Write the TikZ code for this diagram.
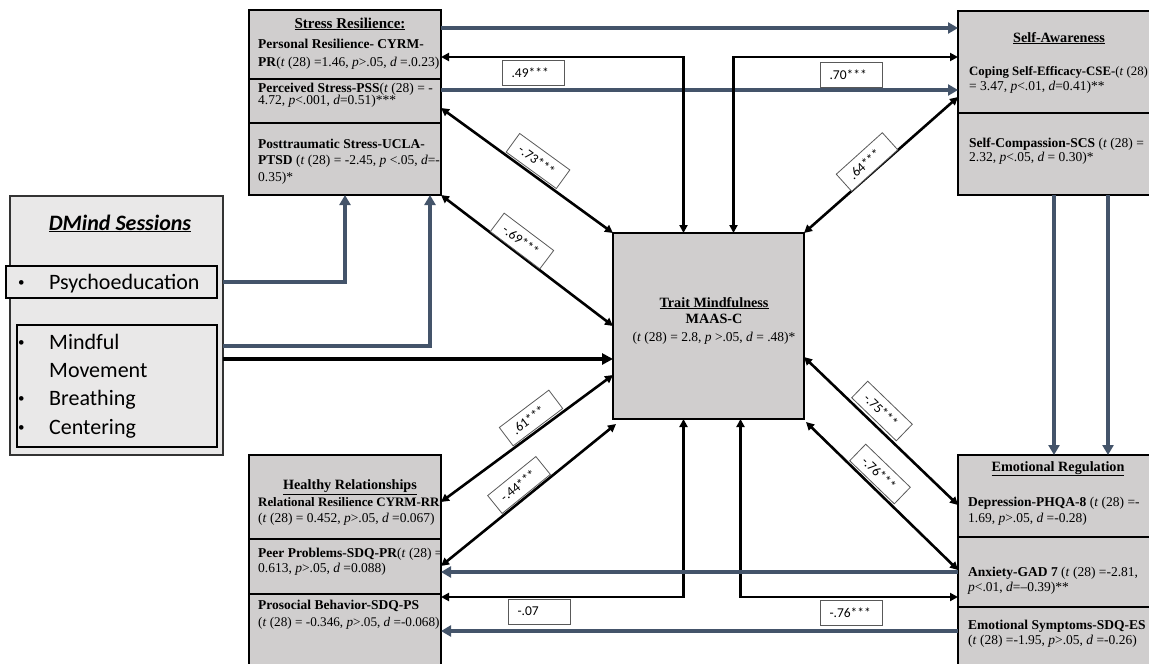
\documentclass[tikz,border=0pt]{standalone}
\usepackage{fontspec}
\setmainfont{Liberation Serif}
\newfontfamily\calib{Carlito}
\usetikzlibrary{arrows.meta}

\definecolor{slate}{HTML}{44546A}
\definecolor{boxgray}{HTML}{D0CECE}
\definecolor{panelgray}{HTML}{E9E8E8}
\definecolor{tagline}{HTML}{595959}

\newcommand\bodysize{\fontsize{13.5}{16}\selectfont}
\newcommand\headsize{\fontsize{14.2}{17}\selectfont}

\begin{document}
\begin{tikzpicture}[x=1pt,y=-1pt,
  box/.style={draw=black, line width=1.7pt, fill=boxgray, anchor=north west,
              inner sep=0pt, outer sep=0pt},
  divider/.style={draw=black, line width=1.7pt},
  panel/.style={draw=black!80, line width=1.3pt, fill=panelgray, anchor=north west,
              inner sep=0pt, outer sep=0pt},
  subpanel/.style={draw=black, line width=1.5pt, fill=panelgray, anchor=north west,
              inner sep=0pt, outer sep=0pt},
  txt/.style={anchor=base west, inner sep=0pt, font=\bodysize},
  ctr/.style={anchor=base, inner sep=0pt, font=\bodysize},
  head/.style={anchor=base, inner sep=0pt, font=\headsize\bfseries},
  sess/.style={anchor=base west, inner sep=0pt, font=\calib\fontsize{22}{26}\selectfont},
  dot/.style={anchor=base west, inner sep=0pt, font=\calib\fontsize{13}{15}\selectfont},
  tag/.style={draw=tagline, line width=0.8pt, fill=white, font=\calib\fontsize{13.5}{15}\selectfont,
              text width=44pt, align=left, inner xsep=9pt, inner ysep=0pt, minimum height=25pt},
  blk/.style={draw=black, line width=2.6pt},
  both/.style={blk, {Triangle[length=8pt,width=8pt]}-{Triangle[length=8pt,width=8pt]}},
  blu/.style={draw=slate, line width=3.6pt, -{Triangle[length=10pt,width=11pt]}}
]
\useasboundingbox (0,0) rectangle (1149,664);
\clip (0,0) rectangle (1149,664);

% ---------- boxes ----------
\node[box, minimum width=192pt, minimum height=185pt] (sr) at (249,10) {};
\node[box, minimum width=193pt, minimum height=184pt] (sa) at (958,11) {};
\node[box, minimum width=191pt, minimum height=186pt] (tm) at (613,233) {};
\node[box, minimum width=192pt, minimum height=215pt] (hr) at (249,455) {};
\node[box, minimum width=194pt, minimum height=215pt] (er) at (958,455) {};

\draw[divider] ([yshift=-69pt]sr.north west) -- ([yshift=-69pt]sr.north east);
\draw[divider] ([yshift=-113pt]sr.north west) -- ([yshift=-113pt]sr.north east);
\draw[divider] ([yshift=-102pt]sa.north west) -- ([yshift=-102pt]sa.north east);
\draw[divider] ([yshift=-84pt]hr.north west) -- ([yshift=-84pt]hr.north east);
\draw[divider] ([yshift=-139pt]hr.north west) -- ([yshift=-139pt]hr.north east);
\draw[divider] ([yshift=-82pt]er.north west) -- ([yshift=-82pt]er.north east);
\draw[divider] ([yshift=-152pt]er.north west) -- ([yshift=-152pt]er.north east);

% ---------- session panel ----------
\node[panel, minimum width=213pt, minimum height=259pt] (dm) at (10,196) {};
\node[subpanel, minimum width=211pt, minimum height=32pt] (psy) at (6,266) {};
\node[subpanel, minimum width=200pt, minimum height=122pt] (mov) at (17,325) {};
\node[anchor=base, inner sep=0pt, font=\calib\fontsize{22}{26}\selectfont\bfseries\itshape]
  (dmtitle) at (120,230) {\underline{DMind Sessions}};
\node[dot] (b1) at (18,286) {\textbullet};
\node[sess] (s1) at (49,289) {Psychoeducation};
\node[dot] (b2) at (18,346) {\textbullet};
\node[sess] (s2) at (49,349) {Mindful};
\node[sess] (s3) at (49,377) {Movement};
\node[dot] (b4) at (18,402) {\textbullet};
\node[sess] (s4) at (49,405) {Breathing};
\node[dot] (b5) at (18,431) {\textbullet};
\node[sess] (s5) at (49,434) {Centering};

% ---------- Stress Resilience text ----------
\node[head, font=\fontsize{15}{17}\selectfont\bfseries] (srt) at (350,28) {\underline{Stress Resilience:}};
\node[txt] (sr1) at (258,48) {\textbf{Personal Resilience- CYRM-}};
\node[txt] (sr2) at (258,66.5) {\textbf{PR}(\textit{t} (28) =1.46, \textit{p}>.05, \textit{d} =.0.23)};
\node[txt] (sr3) at (258,92) {\textbf{Perceived Stress-PSS}(\textit{t} (28) = -};
\node[txt] (sr4) at (258,104.5) {4.72, \textit{p}<.001, \textit{d}=0.51)***};
\node[txt] (sr5) at (258,148) {\textbf{Posttraumatic Stress-UCLA-}};
\node[txt] (sr6) at (258,164.5) {\textbf{PTSD} (\textit{t} (28) = -2.45, \textit{p} <.05, \textit{d}=-};
\node[txt] (sr7) at (258,181) {0.35)*};

% ---------- Self-Awareness text ----------
\node[head] (sat) at (1059,42) {\underline{Self-Awareness}};
\node[txt, font=\fontsize{12.8}{15}\selectfont] (sa1) at (969,75.5) {\textbf{Coping Self-Efficacy-CSE-}(\textit{t} (28)};
\node[txt] (sa2) at (969,90.5) {= 3.47, \textit{p}<.01, \textit{d}=0.41)**};
\node[txt] (sa3) at (969,147.5) {\textbf{Self-Compassion-SCS} (\textit{t} (28) =};
\node[txt] (sa4) at (969,161.5) {2.32, \textit{p}<.05, \textit{d} = 0.30)*};

% ---------- Trait Mindfulness text ----------
\node[head] (tmt) at (714,307) {\underline{Trait Mindfulness}};
\node[head] (tmm) at (714,323) {MAAS-C};
\node[ctr] (tms) at (714,341) {(\textit{t} (28) = 2.8, \textit{p} >.05, \textit{d} = .48)*};

% ---------- Healthy Relationships text ----------
\node[head] (hrt) at (350,489.5) {\underline{Healthy Relationships}};
\node[txt, font=\fontsize{12.9}{15}\selectfont] (hr1) at (258,506) {\textbf{Relational Resilience CYRM-RR}};
\node[txt] (hr2) at (258,522) {(\textit{t} (28) = 0.452, \textit{p}>.05, \textit{d} =0.067)};
\node[txt] (hr3) at (258,557.5) {\textbf{Peer Problems-SDQ-PR}(\textit{t} (28) =};
\node[txt] (hr4) at (258,572.5) {0.613, \textit{p}>.05, \textit{d} =0.088)};
\node[txt] (hr5) at (258,609.5) {\textbf{Prosocial Behavior-SDQ-PS}};
\node[txt, font=\fontsize{13.2}{15}\selectfont] (hr6) at (258,626) {(\textit{t} (28) = -0.346, \textit{p}>.05, \textit{d} =-0.068)};

% ---------- Emotional Regulation text ----------
\node[head] (ert) at (1058,471) {\underline{Emotional Regulation}};
\node[txt] (er1) at (968,506) {\textbf{Depression-PHQA-8} (\textit{t} (28) =-};
\node[txt] (er2) at (968,522) {1.69, \textit{p}>.05, \textit{d} =-0.28)};
\node[txt] (er3) at (968,576) {\textbf{Anxiety-GAD 7} (\textit{t} (28) =-2.81,};
\node[txt] (er4) at (968,591) {\textit{p}<.01, \textit{d}=--0.39)**};
\node[txt] (er5) at (968,629.5) {\textbf{Emotional Symptoms-SDQ-ES}};
\node[txt] (er6) at (968,644.5) {(\textit{t} (28) =-1.95, \textit{p}>.05, \textit{d} =-0.26)};

% ---------- anchor points on box edges ----------
\coordinate (srA) at ([yshift=-18pt]sr.north east);
\coordinate (srB) at ([yshift=-47pt]sr.north east);
\coordinate (srC) at ([yshift=-80pt]sr.north east);
\coordinate (srD) at ([yshift=-98pt]sr.north east);
\coordinate (saB) at ([yshift=-46pt]sa.north west);
\coordinate (saE) at ([yshift=-86pt]sa.north west);
\coordinate (dmA) at ([yshift=-86pt]dm.north east);
\coordinate (dmB) at ([yshift=-150pt]dm.north east);
\coordinate (dmC) at ([yshift=-163pt]dm.north east);
\coordinate (hrA) at ([yshift=-47pt]hr.north east);
\coordinate (hrB) at ([yshift=-111pt]hr.north east);
\coordinate (hrC) at ([yshift=-142pt]hr.north east);
\coordinate (erA) at ([yshift=-50pt]er.north west);
\coordinate (erB) at ([yshift=-115pt]er.north west);
\coordinate (erC) at ([yshift=-117pt]er.north west);
\coordinate (erD) at ([yshift=-142pt]er.north west);
\coordinate (erE) at ([yshift=-176pt]er.north west);

% ---------- connectors ----------
\draw[blu] (srA) -- (srA -| sa.west);
\draw[blu] (srC) -- (srC -| sa.west);
\draw[both] (srB) -| ([xshift=-25pt]tm.north);
\draw[both] ([xshift=25pt]tm.north) |- (saB);
\draw[both] (srD) -- (tm.north west);
\draw[both] (sr.south east) -- (tm.west);
\draw[both] (saE) -- (tm.north east);

\draw[blu] (dmA) -| (sr.south);
\draw[blu] (dmB) -| ([xshift=-11pt]sr.south east);
\draw[blk, line width=3.8pt, -{Triangle[length=11pt,width=11pt]}] (dmC) -- (dmC -| tm.west);

\draw[both] (hrA) -- ([yshift=-49pt]tm.west);
\draw[both] (hrB) -- ([shift={(3pt,-5pt)}]tm.south west);
\draw[both] ([xshift=-25pt]tm.south) |- (hrC);
\draw[both] ([xshift=32pt]tm.south) |- (erD);
\draw[both] ([yshift=-31pt]tm.east) -- (erA);
\draw[both] ([shift={(2pt,-3pt)}]tm.south east) -- (erB);

\draw[blu] (erC) -- (erC -| hr.east);
\draw[blu] (erE) -- (erE -| hr.east);

\draw[blu] ([xshift=96pt]sa.south west) -- ([xshift=96pt]sa.south west |- er.north);
\draw[blu] ([xshift=150pt]sa.south west) -- ([xshift=150pt]sa.south west |- er.north);

% ---------- coefficient tags ----------
\node[tag] (w49) at (533.5,73) {.49***};
\node[tag] (w70) at (851.5,74.5) {.70***};
\node[tag] (w07) at (539.5,611.5) {-.07};
\node[tag] (w76h) at (851.5,612.5) {-.76***};
\node[tag, minimum height=23pt, rotate=-36] (w73) at (538,161) {-.73***};
\node[tag, minimum height=23pt, rotate=-37] (w69) at (522,241) {-.69***};
\node[tag, minimum height=23pt, rotate=42] (w64) at (867,162) {.64***};
\node[tag, minimum height=23pt, rotate=37] (w61) at (531,418) {.61***};
\node[tag, minimum height=23pt, rotate=39] (w44) at (519,485) {-.44***};
\node[tag, minimum height=23pt, rotate=-44] (w75) at (882,411) {-.75***};
\node[tag, minimum height=23pt, rotate=-44] (w76d) at (880,474) {-.76***};
\end{tikzpicture}
\end{document}
